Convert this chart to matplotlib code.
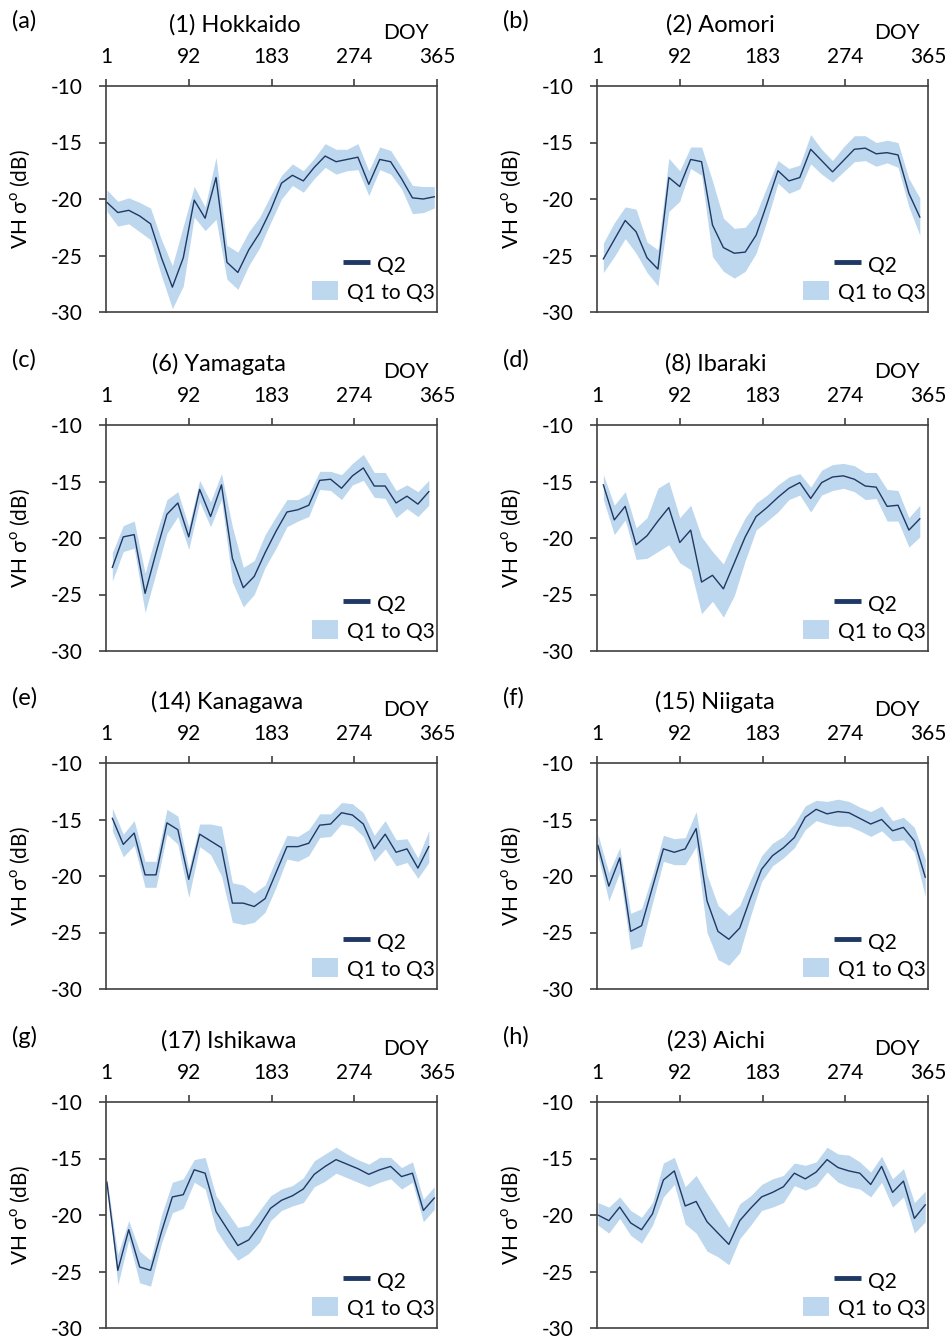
import matplotlib
matplotlib.use('Agg')
import matplotlib.pyplot as plt
from matplotlib.patches import Rectangle

plt.rcParams['font.family'] = ['Lato', 'DejaVu Sans']
plt.rcParams['mathtext.fontset'] = 'custom'
plt.rcParams['mathtext.rm'] = 'Lato'
plt.rcParams['axes.unicode_minus'] = False

# ---------------- data ----------------
days31 = [2, 14, 26, 38, 50, 62, 74, 86, 98, 110, 122, 134, 146, 158, 170, 182,
          194, 206, 218, 230, 242, 254, 266, 278, 290, 302, 314, 326, 338, 350, 362]
days30 = [8, 20, 32, 44, 56, 68, 80, 92, 104, 116, 128, 140, 152, 164, 176, 188,
          200, 212, 224, 236, 248, 260, 272, 284, 296, 308, 320, 332, 344, 356]

x_ticks = [1, 92, 183, 274, 365]
y_ticks = [-10, -15, -20, -25, -30]

panel_letters = ['(a)', '(b)', '(c)', '(d)', '(e)', '(f)', '(g)', '(h)']
panel_titles = ['(1) Hokkaido', '(2) Aomori', '(6) Yamagata', '(8) Ibaraki',
                '(14) Kanagawa', '(15) Niigata', '(17) Ishikawa', '(23) Aichi']

hokkaido_q2 = [-20.3, -21.2, -21.0, -21.5, -22.2, -25.2, -27.8, -25.2, -20.1, -21.7, -18.1, -25.6, -26.5, -24.5, -23.0, -21.0,
               -18.6, -17.9, -18.4, -17.2, -16.2, -16.7, -16.5, -16.3, -18.7, -16.5, -16.7, -18.2, -19.9, -20.0, -19.8]
hokkaido_q1 = [-21.1, -22.4, -22.2, -22.9, -23.6, -26.8, -29.7, -27.7, -21.6, -22.8, -21.8, -27.1, -28.0, -25.9, -24.3, -22.1,
               -20.0, -18.8, -19.4, -18.2, -17.2, -17.8, -17.5, -17.4, -19.7, -17.4, -17.8, -19.1, -21.3, -21.2, -20.8]
hokkaido_q3 = [-19.2, -20.2, -19.9, -20.3, -20.8, -23.6, -25.9, -22.4, -18.9, -20.7, -16.3, -24.1, -24.7, -22.9, -21.6, -19.7,
               -17.9, -16.9, -17.5, -16.4, -15.1, -15.6, -15.6, -15.1, -17.5, -15.4, -15.7, -17.2, -18.8, -18.9, -18.9]

aomori_q2 = [-25.3, -23.6, -21.9, -22.9, -25.2, -26.2, -18.1, -18.9, -16.5, -16.7, -22.3, -24.3, -24.8, -24.7, -23.2,
             -20.4, -17.5, -18.4, -18.1, -15.6, -16.6, -17.6, -16.6, -15.6, -15.5, -16.0, -15.9, -16.1, -19.5, -21.6]
aomori_q1 = [-26.5, -25.1, -23.5, -24.8, -26.5, -27.7, -21.1, -20.2, -17.3, -17.9, -25.1, -26.4, -27.0, -26.4, -24.8,
             -21.9, -18.6, -19.5, -19.1, -16.9, -17.8, -18.5, -17.6, -16.7, -16.6, -17.1, -16.8, -17.2, -20.7, -23.2]
aomori_q3 = [-23.9, -22.1, -20.7, -20.9, -23.8, -24.5, -16.4, -17.5, -15.4, -15.4, -18.4, -21.7, -22.6, -22.5, -21.3,
             -18.9, -16.6, -17.3, -17.0, -14.3, -15.6, -16.6, -15.4, -14.4, -14.4, -15.0, -14.8, -15.0, -18.2, -19.9]

yamagata_q2 = [-22.6, -19.9, -19.7, -24.9, -21.3, -17.9, -16.9, -19.9, -15.7, -18.1, -15.3, -21.8, -24.4, -23.4, -21.3,
               -19.4, -17.7, -17.5, -17.1, -14.9, -14.8, -15.6, -14.5, -13.8, -15.4, -15.4, -16.9, -16.3, -17.0, -15.9]
yamagata_q1 = [-23.8, -21.2, -20.9, -26.6, -23.1, -19.6, -18.1, -21.0, -16.8, -19.0, -16.6, -23.9, -26.1, -25.0, -22.6,
               -20.9, -19.0, -18.5, -18.1, -15.7, -15.8, -16.6, -15.3, -14.9, -16.4, -16.5, -18.2, -17.4, -18.1, -17.1]
yamagata_q3 = [-21.3, -18.9, -18.5, -23.1, -19.7, -16.6, -15.9, -19.0, -14.9, -16.8, -14.3, -19.0, -22.6, -22.0, -19.7,
               -18.1, -16.6, -16.6, -16.1, -14.1, -14.1, -14.4, -13.4, -12.6, -14.2, -14.2, -15.8, -15.3, -15.9, -14.9]

ibaraki_q2 = [-15.3, -18.4, -17.2, -20.6, -19.8, -18.5, -17.3, -20.4, -19.3, -23.9, -23.3, -24.5, -22.2, -19.9, -18.1,
              -17.3, -16.4, -15.6, -15.1, -16.5, -15.1, -14.6, -14.5, -14.8, -15.4, -15.5, -17.2, -17.1, -19.3, -18.3]
ibaraki_q1 = [-16.6, -19.7, -18.4, -21.9, -21.8, -21.2, -20.6, -22.2, -22.8, -26.7, -25.6, -27.0, -25.1, -22.0, -19.3,
              -18.5, -17.7, -16.6, -16.2, -17.7, -16.2, -15.8, -15.6, -15.9, -16.6, -16.5, -18.5, -18.5, -20.8, -19.9]
ibaraki_q3 = [-14.4, -17.1, -15.9, -19.1, -18.2, -15.6, -15.0, -18.2, -17.1, -19.9, -21.2, -22.3, -20.1, -18.2, -16.9,
              -16.2, -15.3, -14.6, -14.3, -15.5, -14.0, -13.5, -13.4, -13.6, -14.2, -14.2, -15.7, -15.8, -18.2, -17.1]

kanagawa_q2 = [-14.9, -17.2, -16.2, -19.9, -19.9, -15.3, -15.9, -20.3, -16.3, -16.9, -17.5, -22.4, -22.4, -22.7, -22.0,
               -19.7, -17.4, -17.4, -17.1, -15.5, -15.4, -14.4, -14.6, -15.4, -17.6, -16.3, -17.9, -17.6, -19.3, -17.4]
kanagawa_q1 = [-16.0, -18.3, -17.3, -21.0, -21.0, -16.3, -17.2, -21.9, -17.4, -18.1, -20.0, -24.1, -24.3, -24.1, -23.2,
               -21.0, -18.5, -18.7, -18.2, -16.6, -16.5, -15.4, -15.6, -16.5, -18.7, -17.6, -19.1, -18.8, -20.2, -18.8]
kanagawa_q3 = [-14.0, -16.3, -15.1, -18.7, -18.7, -14.1, -14.7, -19.4, -15.4, -15.4, -15.6, -20.6, -20.8, -21.5, -20.8,
               -18.5, -16.4, -16.5, -15.9, -14.5, -14.5, -13.5, -13.6, -14.4, -16.4, -15.1, -16.8, -16.7, -18.4, -16.0]

niigata_q2 = [-17.3, -20.9, -18.4, -24.9, -24.4, -21.0, -17.6, -17.9, -17.6, -15.8, -22.2, -24.9, -25.6, -24.6, -21.9, -19.4,
              -18.2, -17.5, -16.6, -14.8, -14.1, -14.5, -14.3, -14.4, -14.9, -15.4, -15.0, -16.0, -15.7, -16.9, -20.1]
niigata_q1 = [-18.2, -22.2, -19.7, -26.5, -26.2, -22.4, -18.7, -19.0, -19.0, -17.4, -25.0, -27.4, -27.9, -26.8, -23.5, -20.5,
              -19.1, -18.4, -17.5, -15.9, -15.1, -15.4, -15.6, -15.6, -16.0, -16.5, -16.0, -16.9, -16.8, -17.9, -21.8]
niigata_q3 = [-16.3, -19.7, -17.5, -23.3, -22.9, -19.9, -16.4, -16.7, -16.6, -14.3, -19.9, -22.6, -23.5, -22.6, -20.3, -18.2,
              -17.1, -16.5, -15.4, -13.8, -13.3, -13.4, -13.2, -13.4, -13.9, -14.3, -13.8, -15.1, -14.8, -15.7, -18.5]

ishikawa_q2 = [-17.1, -24.9, -21.3, -24.6, -24.9, -21.5, -18.4, -18.2, -16.0, -16.3, -19.7, -21.2, -22.7, -22.2, -20.9, -19.4,
               -18.7, -18.3, -17.7, -16.4, -15.7, -15.1, -15.5, -15.9, -16.4, -16.0, -15.7, -16.6, -16.3, -19.6, -18.5]
ishikawa_q1 = [-17.3, -26.2, -22.2, -26.0, -26.3, -22.5, -19.8, -19.4, -17.1, -17.7, -21.3, -22.8, -24.0, -23.4, -22.4, -20.5,
               -19.6, -19.2, -18.9, -17.5, -17.0, -16.3, -16.7, -17.1, -17.5, -17.1, -16.8, -17.7, -17.1, -20.6, -19.5]
ishikawa_q3 = [-16.8, -23.5, -20.5, -23.2, -24.0, -20.0, -17.1, -16.8, -15.1, -14.9, -18.3, -19.7, -21.1, -20.9, -19.6, -18.3,
               -17.7, -17.4, -16.7, -15.2, -14.6, -14.0, -14.6, -15.1, -15.5, -14.9, -14.9, -15.8, -15.3, -18.6, -17.5]

aichi_q2 = [-20.0, -20.5, -19.3, -20.7, -21.3, -19.9, -16.9, -16.1, -19.2, -18.8, -20.6, -21.6, -22.6, -20.5, -19.4, -18.4,
            -18.0, -17.5, -16.3, -16.8, -16.2, -15.1, -15.8, -16.1, -16.3, -17.3, -15.7, -18.0, -17.0, -20.3, -19.1]
aichi_q1 = [-20.9, -21.6, -20.3, -21.8, -22.5, -20.9, -18.4, -17.3, -20.8, -21.6, -23.2, -23.7, -24.4, -22.1, -20.9, -19.6,
            -19.3, -18.9, -17.4, -17.8, -17.4, -16.2, -17.1, -17.5, -17.7, -18.4, -17.1, -19.3, -18.4, -21.6, -20.6]
aichi_q3 = [-18.9, -19.3, -18.4, -19.6, -20.2, -18.9, -15.4, -14.9, -17.5, -16.5, -18.1, -19.6, -21.1, -19.0, -18.3, -17.3,
            -16.8, -16.5, -15.4, -15.6, -15.3, -14.0, -14.6, -14.7, -15.3, -16.2, -14.8, -16.8, -15.9, -18.9, -17.9]

panels = [
    (days31, hokkaido_q1, hokkaido_q2, hokkaido_q3),
    (days30, aomori_q1, aomori_q2, aomori_q3),
    (days30, yamagata_q1, yamagata_q2, yamagata_q3),
    (days30, ibaraki_q1, ibaraki_q2, ibaraki_q3),
    (days30, kanagawa_q1, kanagawa_q2, kanagawa_q3),
    (days31, niigata_q1, niigata_q2, niigata_q3),
    (days31, ishikawa_q1, ishikawa_q2, ishikawa_q3),
    (days31, aichi_q1, aichi_q2, aichi_q3),
]

# ---------------- layout / style ----------------
W, H = 950, 1342
fig = plt.figure(figsize=(W / 100, H / 100), dpi=100)

col_left_px = [106, 597]
row_top_px = [86, 425, 763, 1102]
ax_w_px, ax_h_px = 331, 226
title_x = [0.39, 0.372, 0.34, 0.36, 0.365, 0.356, 0.37, 0.36]

line_color = '#1F3864'
band_color = '#BDD7EE'
spine_color = '#404040'
fs = 15

for i, (d, q1, q2, q3) in enumerate(panels):
    r, c = divmod(i, 2)
    left = col_left_px[c] / W
    bottom = 1 - (row_top_px[r] + ax_h_px) / H
    ax = fig.add_axes([left, bottom, ax_w_px / W, ax_h_px / H])

    ax.fill_between(d, q1, q3, color=band_color, linewidth=0)
    ax.plot(d, q2, color=line_color, linewidth=1.0)

    ax.set_xlim(1, 365)
    ax.set_ylim(-30, -10)
    ax.set_xticks(x_ticks)
    ax.set_yticks(y_ticks)
    ax.xaxis.tick_top()
    ax.tick_params(axis='x', direction='out', length=5, width=1.2, pad=9,
                   labelsize=fs, color=spine_color, top=True, bottom=False)
    ax.tick_params(axis='y', direction='out', length=5, width=1.2, pad=12,
                   labelsize=fs, color=spine_color, left=True, right=False)
    for s in ax.spines.values():
        s.set_color(spine_color)
        s.set_linewidth(1.2)

    ax.text(-0.26, 0.5, 'VH σ$^{\\mathregular{o}}$ (dB)', rotation=90, ha='center', va='center',
            fontsize=fs, transform=ax.transAxes)
    ax.text(title_x[i], 1.27, panel_titles[i], ha='center', va='center', fontsize=fs + 2,
            transform=ax.transAxes)
    ax.text(0.905, 1.235, 'DOY', ha='center', va='center', fontsize=fs, transform=ax.transAxes)
    ax.text(-0.285, 1.29, panel_letters[i], ha='left', va='center', fontsize=fs + 2,
            transform=ax.transAxes)

    # custom legend
    ax.plot([0.716, 0.798], [0.22, 0.22], color=line_color, linewidth=3.5,
            transform=ax.transAxes, solid_capstyle='butt')
    ax.text(0.818, 0.205, 'Q2', ha='left', va='center', fontsize=fs, transform=ax.transAxes)
    ax.add_patch(Rectangle((0.622, 0.055), 0.078, 0.08, color=band_color, linewidth=0,
                           transform=ax.transAxes))
    ax.text(0.728, 0.085, 'Q1 to Q3', ha='left', va='center', fontsize=fs, transform=ax.transAxes)

fig.savefig('out.png', dpi=100)
